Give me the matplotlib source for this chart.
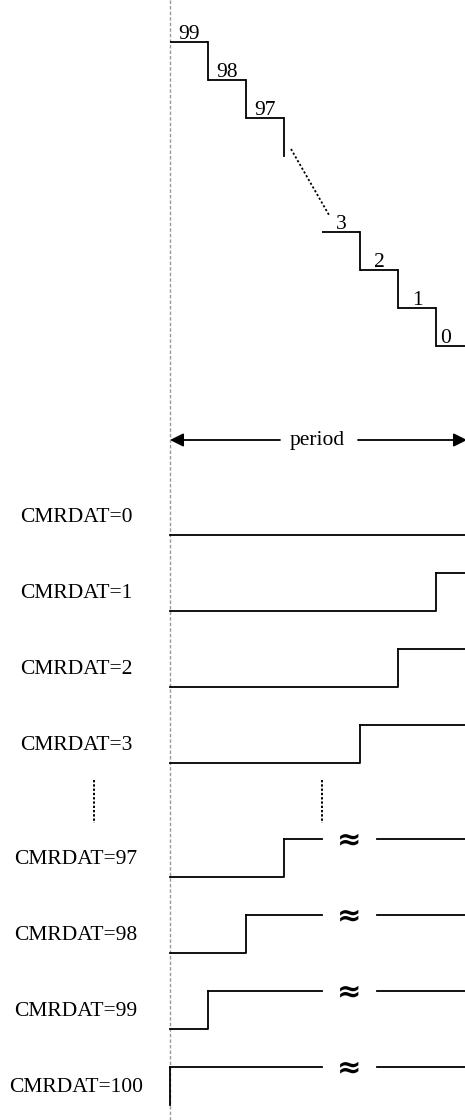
import matplotlib
matplotlib.use("Agg")
import matplotlib.pyplot as plt

plt.rcParams['font.family'] = ['Liberation Serif', 'DejaVu Serif']

# counter values drawn on the staircase (the middle part is left out)
counter_vals = [99, 98, 97, 3, 2, 1, 0]
# compare register values, one waveform each
cmrdat_vals = [0, 1, 2, 3, 97, 98, 99, 100]
period_label = "period"

# layout (pixels)
W, H = 465, 1120
X0 = 170          # start of period
SW = 38           # one counter tick
Y_TOP = 42        # level of counter 99
ROW0 = 535        # low level of first waveform
ROW_H = 76
AMP = 38
BREAK_SLOT = 4    # where the "~" break sits on x
FS = 15.5
LW = 1.3


def slot_of(v):
    # horizontal slot of counter value v (the gap hides 96..4)
    return 99 - v if v > 50 else 7 - v


def level_of(v):
    # vertical step of counter value v
    return 99 - v if v > 50 else 8 - v


def xpx(s):
    return X0 + SW * s


fig = plt.figure(figsize=(W / 100, H / 100), dpi=100)
ax = fig.add_axes([0, 0, 1, 1])
ax.set_xlim(0, W)
ax.set_ylim(H, 0)
ax.axis('off')

# dashed reference line at period start
ax.plot([X0, X0], [0, H], color='#999999', lw=1.0, ls=(0, (2.5, 1.5)))

# counter staircase
for i, v in enumerate(counter_vals):
    s = slot_of(v)
    y = Y_TOP + SW * level_of(v)
    x1 = min(xpx(s + 1), W)
    ax.plot([xpx(s), x1], [y, y], color='black', lw=LW, solid_capstyle='butt')
    cx = (xpx(s) + x1) / 2 - (5 if x1 == W else 0)
    ax.text(cx, y - 3, str(v), ha='center', va='baseline', fontsize=FS)
    if i + 1 < len(counter_vals):
        ax.plot([x1, x1], [y, y + SW], color='black', lw=LW)
        nxt = counter_vals[i + 1]
        if v - nxt > 1:
            # dotted line over the values that are left out
            ys = Y_TOP + SW * level_of(nxt)
            ax.plot([x1 + 7, xpx(slot_of(nxt)) + 7], [y + SW - 7, ys - 17],
                    color='black', lw=1.3, ls=(0, (1.2, 1.2)))

# period arrow
ay = 440
ax.text((X0 + W) / 2, ay, period_label, ha='center', va='center', fontsize=FS)
ax.annotate('', xy=(X0, ay), xytext=(X0 + 110, ay), annotation_clip=False,
            arrowprops=dict(arrowstyle='-|>', color='black', lw=1.3,
                            mutation_scale=20, shrinkA=0, shrinkB=0))
ax.annotate('', xy=(W + 2, ay), xytext=(W - 107, ay), annotation_clip=False,
            arrowprops=dict(arrowstyle='-|>', color='black', lw=1.3,
                            mutation_scale=20, shrinkA=0, shrinkB=0))

# waveforms: output high while counter < CMRDAT
row = 0.0
prev = None
for c in cmrdat_vals:
    if prev is not None and c - prev > 1:
        row += 1.5
        # vertical dots for skipped rows
        ysep = (ROW0 + ROW_H * (row - 1.5) + ROW0 + ROW_H * row - AMP) / 2
        for xs in (94, xpx(BREAK_SLOT)):
            ax.plot([xs, xs], [ysep - 21, ysep + 22], color='black', lw=1.4,
                    ls=(0, (1.2, 1.0)))
    elif prev is not None:
        row += 1
    low = ROW0 + ROW_H * row
    high = low - AMP
    ax.text(76, low - 13, "CMRDAT=%d" % c, ha='center', va='baseline', fontsize=FS)
    if c == 0:
        ax.plot([X0, W], [low, low], color='black', lw=LW)
    else:
        xs = xpx(slot_of(c - 1))
        ax.plot([X0, xs, xs], [low, low, high], color='black', lw=LW)
        if c > 50:
            ax.plot([xs, xpx(BREAK_SLOT)], [high, high], color='black', lw=LW)
            ax.text(349, high + 1, '\u2248', ha='center', va='center',
                    fontsize=21, fontweight='bold', family='DejaVu Sans')
            ax.plot([377, W], [high, high], color='black', lw=LW)
        else:
            ax.plot([xs, W], [high, high], color='black', lw=LW)
    prev = c

fig.savefig('out.png', dpi=100)
